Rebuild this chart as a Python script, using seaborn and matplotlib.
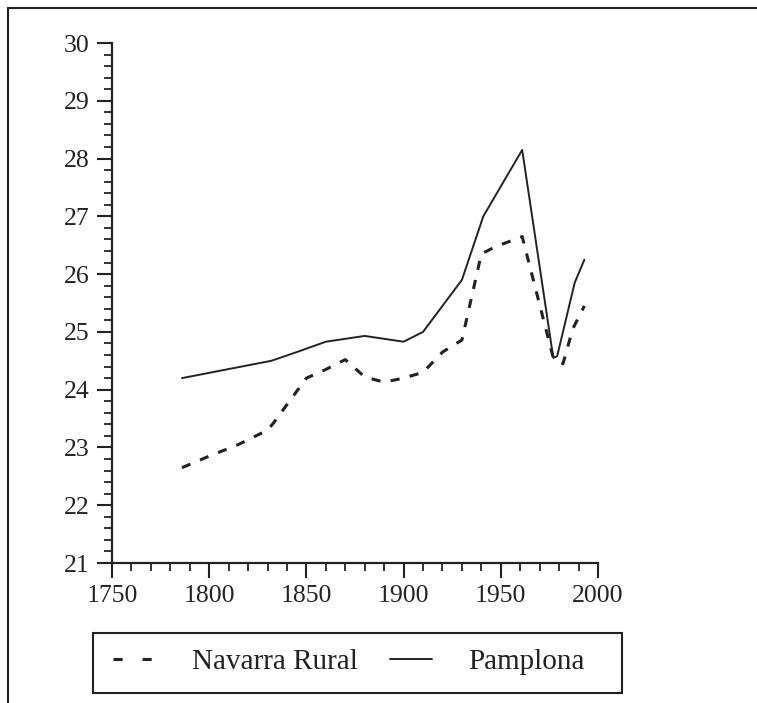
import matplotlib
matplotlib.use("Agg")
import matplotlib.pyplot as plt
from matplotlib.lines import Line2D
from matplotlib.patches import Rectangle
from matplotlib.ticker import MultipleLocator
import seaborn as sns
import pandas as pd

# Mean age at first marriage, rural Navarre vs. Pamplona
years_rural = [1786, 1800, 1815, 1830, 1833, 1850, 1860, 1870, 1880, 1890,
               1900, 1910, 1920, 1930, 1940, 1947, 1961, 1977, 1982, 1987, 1993]
age_rural = [22.65, 22.85, 23.05, 23.3, 23.42, 24.2, 24.35, 24.52, 24.22, 24.13,
             24.2, 24.3, 24.65, 24.86, 26.35, 26.47, 26.65, 24.55, 24.45, 25.05, 25.45]

years_pamplona = [1786, 1832, 1845, 1860, 1880, 1900, 1910, 1930, 1941, 1961,
                  1977, 1979, 1988, 1993]
age_pamplona = [24.2, 24.5, 24.65, 24.83, 24.93, 24.83, 25.0, 25.9, 27.0, 28.15,
                24.55, 24.58, 25.85, 26.25]

series_labels = ["Navarra Rural", "Pamplona"]
x_ticks = [1750, 1800, 1850, 1900, 1950, 2000]
y_ticks = [21, 22, 23, 24, 25, 26, 27, 28, 29, 30]

sns.set_style("ticks")
plt.rcParams["font.family"] = ["Liberation Serif", "DejaVu Serif"]

INK = "#222222"
W, H = 757, 703
fig = plt.figure(figsize=(W / 100, H / 100), dpi=100)
fig.patch.set_facecolor("white")
ax = fig.add_axes([112 / W, 1 - 563 / H, (598 - 112) / W, (563 - 43) / H])
ax.set_facecolor("white")

rural = pd.DataFrame({"year": years_rural, "age": age_rural})
pamp = pd.DataFrame({"year": years_pamplona, "age": age_pamplona})

sns.lineplot(data=rural, x="year", y="age", ax=ax, color=INK, lw=2.2,
             sort=False, estimator=None)
ax.lines[-1].set_dashes((3.0, 3.4))
sns.lineplot(data=pamp, x="year", y="age", ax=ax, color=INK, lw=1.4,
             sort=False, estimator=None)

ax.set_xlim(1750, 2000)
ax.set_ylim(21, 30)
ax.set_xticks(x_ticks)
ax.set_yticks(y_ticks)
ax.xaxis.set_minor_locator(MultipleLocator(10))
ax.yaxis.set_minor_locator(MultipleLocator(0.2))
ax.set_xlabel("")
ax.set_ylabel("")

for side in ("top", "right"):
    ax.spines[side].set_visible(False)
for side in ("left", "bottom"):
    ax.spines[side].set_linewidth(1.6)
    ax.spines[side].set_color(INK)

ax.tick_params(which="major", direction="out", length=11, width=1.5,
               color=INK, labelcolor=INK, labelsize=18.5, pad=5)
ax.tick_params(which="minor", direction="out", length=6, width=1.3, color=INK)

# outer frame (top and left edges)
fig.add_artist(Line2D([8 / W, 1], [1 - 8 / H, 1 - 8 / H], transform=fig.transFigure,
                      color=INK, lw=1.5))
fig.add_artist(Line2D([8 / W, 8 / W], [0, 1 - 8 / H], transform=fig.transFigure,
                      color=INK, lw=1.5))

# legend box
fig.add_artist(Rectangle((93 / W, 1 - 693 / H), (622 - 93) / W, 60 / H,
                         transform=fig.transFigure, fill=False, edgecolor=INK, lw=1.5))

handles = [Line2D([], [], color=INK, lw=2.2, dashes=(3.0, 6.5)),
           Line2D([], [], color=INK, lw=1.4)]
fig.legend(handles, series_labels, loc="center left",
           bbox_to_anchor=(113 / W, 1 - 662 / H), ncol=2, frameon=False,
           borderpad=0, borderaxespad=0, handlelength=1.45, handletextpad=1.25,
           columnspacing=1.1, prop={"family": ["Liberation Serif"], "size": 21},
           labelcolor=INK)

fig.savefig("out.png", dpi=100, facecolor="white")
